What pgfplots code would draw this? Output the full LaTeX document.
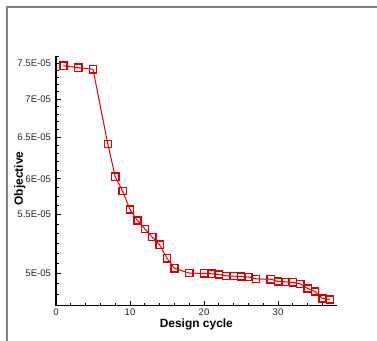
\documentclass[border=0pt]{standalone}
\usepackage{fontspec}
\setmainfont{Liberation Sans}
\usepackage{pgfplots}
\pgfplotsset{compat=1.18}
\definecolor{histred}{RGB}{222,0,0}
\definecolor{framegray}{RGB}{130,130,130}
\begin{document}
\begin{tikzpicture}
\useasboundingbox (0,0) rectangle (377bp,341bp);
% outer frame (top and left edges)
\draw[framegray, line width=1.1bp] (7bp,0) -- (7bp,334bp) -- (377bp,334bp);
\begin{axis}[
  at={(56bp,35.3bp)}, anchor=south west,
  scale only axis,
  width=280.7bp, height=249.7bp,
  xmin=0, xmax=37.93,
  ymode=log,
  ymin=4.697e-5, ymax=7.606e-5,
  axis lines=left,
  axis line style={-, line width=1.2bp, black},
  tick align=inside,
  major tick length=5bp, minor tick length=3bp,
  every tick/.style={black, line width=0.9bp},
  xtick={0,10,20,30},
  minor xtick={2,4,6,8,12,14,16,18,22,24,26,28,32,34,36},
  ytick={5e-5,5.6e-5,6e-5,6.5e-5,7e-5,7.5e-5},
  yticklabels={5E-05,5.5E-05,6E-05,6.5E-05,7E-05,7.5E-05},
  minor ytick={4.7e-5,4.8e-5,4.9e-5,5.1e-5,5.2e-5,5.3e-5,5.4e-5,5.5e-5,5.7e-5,5.8e-5,5.9e-5,6.1e-5,6.2e-5,6.3e-5,6.4e-5,6.6e-5,6.7e-5,6.8e-5,6.9e-5,7.1e-5,7.2e-5,7.3e-5,7.4e-5,7.6e-5},
  /pgf/number format/assume math mode=true,
  tick label style={font=\fontsize{9.6}{11}\selectfont, text=black!85},
  yticklabel style={xshift=-1.5bp},
  xlabel={Design cycle},
  ylabel={Objective},
  label style={font=\fontsize{12}{14}\selectfont\bfseries},
  xlabel style={at={(axis description cs:0.5,-0.0881)}, anchor=base},
  ylabel style={at={(axis description cs:-0.118,0.51)}, anchor=base, rotate=0},
  clip=false,
]
\addplot[histred, line width=1bp, mark=square, mark size=3.6bp,
  mark options={solid, line width=1.4bp}]
  coordinates {
  (1,7.465e-5) (3,7.437e-5) (5,7.414e-5) (7,6.418e-5) (8,6.026e-5)
  (9,5.861e-5) (10,5.656e-5) (11,5.537e-5) (12,5.449e-5) (13,5.363e-5)
  (14,5.284e-5) (15,5.148e-5) (16,5.049e-5) (18,5.003e-5) (20,5.000e-5)
  (21,4.996e-5) (22,4.990e-5) (23,4.976e-5) (24,4.973e-5) (25,4.970e-5)
  (26,4.966e-5) (27,4.947e-5) (29,4.944e-5) (30,4.923e-5) (31,4.919e-5)
  (32,4.914e-5) (33,4.900e-5) (34,4.857e-5) (35,4.829e-5) (36,4.764e-5)
  (37,4.755e-5)
  };
\end{axis}
\end{tikzpicture}
\end{document}
